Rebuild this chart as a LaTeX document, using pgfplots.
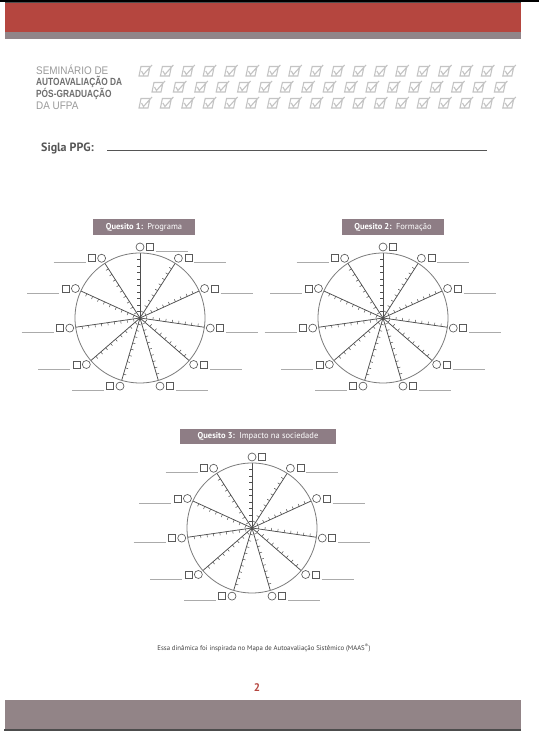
\documentclass[border=0pt]{standalone}
\usepackage{fontspec}
\setmainfont{PT Sans}
\newfontfamily\condfont[FakeStretch=0.8]{Liberation Sans}
\newfontfamily\lightfont[FakeStretch=0.9]{Liberation Sans}
\usepackage{pgfplots}
\pgfplotsset{compat=1.18}
\usetikzlibrary{decorations.markings}
\definecolor{redband}{HTML}{B5463F}
\definecolor{stripe}{HTML}{918589}
\definecolor{boxc}{HTML}{8E7D85}
\definecolor{barc}{HTML}{928487}
\definecolor{spokec}{HTML}{4F4F4F}
\definecolor{rimc}{HTML}{7A7A7A}
\definecolor{markc}{HTML}{5A5A5A}
\definecolor{linec}{HTML}{ABABAB}
\definecolor{ckc}{HTML}{C4C4C4}
\definecolor{hlight}{HTML}{9A9A9A}
\definecolor{hbold}{HTML}{6E6E6E}
\definecolor{siglac}{HTML}{555555}
\definecolor{numred}{HTML}{B5463F}
\pgfdeclareplotmark{ckbox}{%
  \pgfpathmoveto{\pgfqpoint{-6pt}{-5pt}}%
  \pgfpathlineto{\pgfqpoint{3pt}{-5pt}}%
  \pgfpathlineto{\pgfqpoint{5pt}{4.5pt}}%
  \pgfpathlineto{\pgfqpoint{-4pt}{4.5pt}}%
  \pgfpathclose
  \pgfpathmoveto{\pgfqpoint{-3.5pt}{0pt}}%
  \pgfpathlineto{\pgfqpoint{-1.5pt}{-3.5pt}}%
  \pgfpathlineto{\pgfqpoint{7pt}{6pt}}%
  \pgfusepathqstroke}
\pgfplotsset{
  wheelaxis/.style={anchor=origin, x=1pt, y=1pt, xmin=-130, xmax=130, ymin=-100, ymax=100, axis lines=none, clip=false},
  spoke/.style={draw=spokec, line width=0.75pt, postaction={decorate},
    decoration={markings, mark=between positions 0.1 and 0.95 step 0.1 with {\draw[spokec, line width=0.5pt] (0pt,0pt)--(0pt,2.8pt);}}},
}
\newcommand\spk[2]{\addplot[spoke] coordinates {(0,0)(#1,#2)};}
\newcommand\hl[3]{\addplot[draw=linec, line width=0.5pt] coordinates {(#1,#3)(#2,#3)};}
\newcommand\wheel{%
  \addplot[only marks, mark=o, mark size=65pt, mark options={draw=rimc, line width=0.8pt}] coordinates {(0,0)};
  \spk{0}{65}
  \spk{35.14}{54.68}
  \spk{59.12}{27.00}
  \spk{64.34}{-9.25}
  \spk{49.12}{-42.57}
  \spk{18.31}{-62.37}
  \spk{-18.31}{-62.37}
  \spk{-49.12}{-42.57}
  \spk{-64.34}{-9.25}
  \spk{-59.12}{27.00}
  \spk{-35.14}{54.68}
  \addplot[only marks, mark=*, mark size=1.3pt, color=spokec] coordinates {(0,0)};
  \hl{54.38}{86.38}{55.33}
  \hl{80.58}{112.58}{25.09}
  \hl{86.28}{118.28}{-14.50}
  \hl{69.65}{101.65}{-50.90}
  \hl{36.00}{68.00}{-72.52}
  \hl{-68.00}{-36.00}{-72.52}
  \hl{-101.65}{-69.65}{-50.90}
  \hl{-118.28}{-86.28}{-14.50}
  \hl{-112.58}{-80.58}{25.09}
  \hl{-86.38}{-54.38}{55.33}
  \addplot[only marks, mark=*, mark size=4pt, mark options={draw=markc, fill=white, line width=0.65pt}] coordinates {
    (0,71) (38.38,59.73) (64.58,29.49) (70.28,-10.10) (53.65,-46.50) (20.00,-68.12)
    (-20.00,-68.12) (-53.65,-46.50) (-70.28,-10.10) (-64.58,29.49) (-38.38,59.73)};
  \addplot[only marks, mark=square*, mark size=3.5pt, mark options={draw=markc, fill=white, line width=0.65pt}] coordinates {
    (10,71) (48.38,59.73) (74.58,29.49) (80.28,-10.10) (63.65,-46.50) (30.00,-68.12)
    (-30.00,-68.12) (-63.65,-46.50) (-80.28,-10.10) (-74.58,29.49) (-48.38,59.73)};
}
\begin{document}
\begin{tikzpicture}
\begin{axis}[name=page, at={(0,0)}, anchor=south west, scale only axis, width=539pt, height=733pt,
  xmin=0, xmax=539, ymin=0, ymax=733, y dir=reverse, axis lines=none, clip=false]
  % background
  \addplot[fill=white, draw=none] coordinates {(0,0)(539,0)(539,733)(0,733)};
  % top bands
  \addplot[fill=black, draw=none] coordinates {(0,0)(539,0)(539,2)(0,2)};
  \addplot[fill=spokec, draw=none] coordinates {(5,2)(521,2)(521,3)(5,3)};
  \addplot[fill=redband, draw=none] coordinates {(5,3)(521,3)(521,32)(5,32)};
  \addplot[fill=stripe, draw=none] coordinates {(5,32)(521,32)(521,39)(5,39)};
  % bottom bar
  \addplot[fill=barc, draw=none] coordinates {(5,700)(521,700)(521,729)(5,729)};
  \addplot[fill=black!70, draw=none] coordinates {(4,729)(521,729)(521,731)(4,731)};
  % header text
  \node[anchor=west, inner sep=0, text=hlight, font=\lightfont\fontsize{11}{11}\selectfont] at (axis cs:36,70) {SEMINÁRIO DE};
  \node[anchor=west, inner sep=0, text=hbold, font=\condfont\bfseries\fontsize{10.4}{10}\selectfont] at (axis cs:36,82) {AUTOAVALIAÇÃO DA};
  \node[anchor=west, inner sep=0, text=hbold, font=\condfont\bfseries\fontsize{10.4}{10}\selectfont] at (axis cs:36,94) {PÓS-GRADUAÇÃO};
  \node[anchor=west, inner sep=0, text=hlight, font=\lightfont\fontsize{11}{11}\selectfont] at (axis cs:36,106) {DA UFPA};
  % check-mark pattern
  \addplot[only marks, mark=ckbox, mark options={draw=ckc, line width=1.1pt}] coordinates {
    (145,71)(166.4,71)(187.8,71)(209.2,71)(230.6,71)(252,71)(273.4,71)(294.8,71)(316.2,71)
    (337.6,71)(359,71)(380.4,71)(401.8,71)(423.2,71)(444.6,71)(466,71)(487.4,71)(508.8,71)
    (158,87)(179.4,87)(200.8,87)(222.2,87)(243.6,87)(265,87)(286.4,87)(307.8,87)(329.2,87)
    (350.6,87)(372,87)(393.4,87)(414.8,87)(436.2,87)(457.6,87)(479,87)(500.4,87)
    (145,103)(166.4,103)(187.8,103)(209.2,103)(230.6,103)(252,103)(273.4,103)(294.8,103)(316.2,103)
    (337.6,103)(359,103)(380.4,103)(401.8,103)(423.2,103)(444.6,103)(466,103)(487.4,103)(508.8,103)};
  % sigla
  \node[anchor=base west, inner sep=0, text=siglac, font=\bfseries\fontsize{12}{12}\selectfont] at (axis cs:41,151) {Sigla PPG:};
  \addplot[draw=siglac, line width=0.9pt] coordinates {(107,150.5)(487,150.5)};
  % title boxes
  \addplot[fill=boxc, draw=none] coordinates {(93,219)(195,219)(195,234.5)(93,234.5)};
  \node[text=white, inner sep=0, font=\fontsize{8.5}{10}\selectfont] at (axis cs:144,227) {\textbf{Quesito 1:}\, Programa};
  \addplot[fill=boxc, draw=none] coordinates {(342,219)(444,219)(444,234.5)(342,234.5)};
  \node[text=white, inner sep=0, font=\fontsize{8.5}{10}\selectfont] at (axis cs:393,227) {\textbf{Quesito 2:}\, Formação};
  \addplot[fill=boxc, draw=none] coordinates {(180,428.5)(336,428.5)(336,444)(180,444)};
  \node[text=white, inner sep=0, font=\fontsize{8.5}{10}\selectfont] at (axis cs:258,436.3) {\textbf{Quesito 3:}\, Impacto na sociedade};
  % footnote and page number
  \node[text=black!75, inner sep=0, font=\fontsize{6.8}{8}\selectfont] at (axis cs:264,648.5) {Essa dinâmica foi inspirada no Mapa de Autoavaliação Sistêmico (MAAS\textsuperscript{®})};
  \node[text=numred, inner sep=0, font=\bfseries\fontsize{11}{11}\selectfont] at (axis cs:257,688) {2};
\end{axis}
\begin{axis}[wheelaxis, at={(140pt,415pt)}]
  \wheel
  \hl{16}{48}{66.6}
\end{axis}
\begin{axis}[wheelaxis, at={(383pt,415pt)}]
  \wheel
\end{axis}
\begin{axis}[wheelaxis, at={(252pt,205pt)}]
  \wheel
\end{axis}
\end{tikzpicture}
\end{document}
